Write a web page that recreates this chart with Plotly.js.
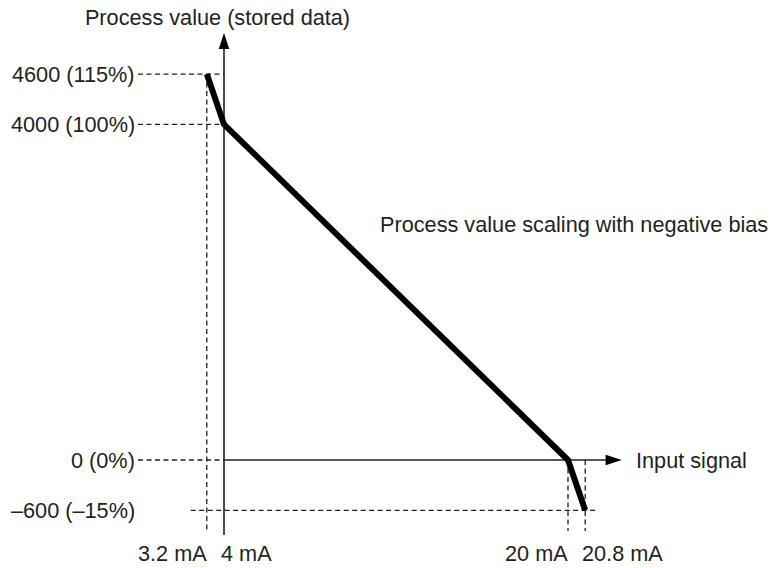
<!DOCTYPE html>
<html><head><meta charset="utf-8">
<script src="https://cdn.plot.ly/plotly-3.0.1.min.js"></script>
<style>html,body{margin:0;padding:0;background:#fff}#chart{width:774px;height:568px}</style>
</head><body><div id="chart"></div>
<script>
// ---- Data ----
const inputSignal = [3.2, 4, 20, 20.8];            // mA
const storedValue = [4600, 4000, 0, -600];         // process value (stored data)
const xTickLabels = ['3.2 mA', '4 mA', '20 mA', '20.8 mA'];
const yTickLabels = ['4600 (115%)', '4000 (100%)', '0 (0%)', '\u2013600 (\u201315%)'];
const titleText = 'Process value (stored data)';
const xAxisLabel = 'Input signal';
const lineLabel = 'Process value scaling with negative bias';

// ---- Layout constants (axis units) ----
const X_RANGE = [-6.4186, 29.5814];
const Y_RANGE = [-1287.3, 5482.7];
const AXIS_X = inputSignal[1];      // vertical axis drawn at 4 mA
const AXIS_Y = storedValue[2];      // horizontal axis drawn at 0
const LABEL_X = 0;                  // right edge of value labels
const X_TIP = 22.5, Y_TIP = 5090;   // arrow tips
const Y_AXIS_BOTTOM = -895, Y_GUIDE_BOTTOM = -845, Y_TICK_TEXT = -1110;

const INK = '#231f20';
const FONT = {family: 'Liberation Sans, Arial, sans-serif', size: 21.7, color: INK};
const DASH = '5px,3.5px';

// horizontal guides
const hx = [], hy = [];
storedValue.forEach((v, i) => {
  let x0 = LABEL_X, x1 = AXIS_X;
  if (i === 3) { x0 = inputSignal[0] - 0.75; x1 = inputSignal[3] + 0.55; }
  hx.push(x0, x1, null); hy.push(v, v, null);
});
// vertical guides
const vx = [], vy = [];
inputSignal.forEach((x, i) => {
  if (i === 1) return; // this one is the axis
  const top = i === 0 ? storedValue[0] : AXIS_Y;
  vx.push(x, x, null); vy.push(top, Y_GUIDE_BOTTOM, null);
});

const traces = [
  {x: hx, y: hy, mode: 'lines', line: {color: INK, width: 1.3, dash: DASH}, hoverinfo: 'skip'},
  {x: vx, y: vy, mode: 'lines', line: {color: INK, width: 1.3, dash: DASH}, hoverinfo: 'skip'},
  // axes
  {x: [AXIS_X, AXIS_X], y: [Y_AXIS_BOTTOM, Y_TIP - 150], mode: 'lines', line: {color: INK, width: 1.6}, hoverinfo: 'skip'},
  {x: [AXIS_X, X_TIP - 0.5], y: [AXIS_Y, AXIS_Y], mode: 'lines', line: {color: INK, width: 1.6}, hoverinfo: 'skip'},
  // scaling line
  {x: inputSignal, y: storedValue, mode: 'lines', line: {color: '#000', width: 6}, hoverinfo: 'skip'},
  // arrowheads
  {x: [AXIS_X, X_TIP], y: [Y_TIP, AXIS_Y], mode: 'markers',
   marker: {symbol: 'arrow', size: 17, angle: [0, 90], color: '#000', line: {width: 0}}, hoverinfo: 'skip'}
];

const annotations = [];
yTickLabels.forEach((t, i) => annotations.push({
  x: LABEL_X, y: storedValue[i], xref: 'x', yref: 'y', text: t, showarrow: false,
  xanchor: 'right', yanchor: 'middle', xshift: -1, font: FONT
}));
const tickAnchor = ['right', 'left', 'right', 'left'];
const tickShift = [2, -5, 2, -5];
xTickLabels.forEach((t, i) => annotations.push({
  x: inputSignal[i], y: Y_TICK_TEXT, xref: 'x', yref: 'y', text: t, showarrow: false,
  xanchor: tickAnchor[i], yanchor: 'middle', xshift: tickShift[i], font: FONT
}));
annotations.push({x: X_TIP, y: AXIS_Y, xref: 'x', yref: 'y', text: xAxisLabel, showarrow: false,
  xanchor: 'left', yanchor: 'middle', xshift: 12, font: FONT});
annotations.push({x: 0.4888, y: 0.604, xref: 'paper', yref: 'paper', text: lineLabel, showarrow: false,
  xanchor: 'left', yanchor: 'middle', font: FONT});

const layout = {
  width: 774, height: 568, autosize: false,
  margin: {l: 0, r: 0, t: 0, b: 0, pad: 0},
  paper_bgcolor: '#fff', plot_bgcolor: '#fff',
  showlegend: false,
  title: {text: titleText, x: 0.281, xref: 'paper', xanchor: 'center',
          y: 1 - 17 / 568, yref: 'container', yanchor: 'middle', font: FONT},
  xaxis: {range: X_RANGE, visible: false, fixedrange: true},
  yaxis: {range: Y_RANGE, visible: false, fixedrange: true},
  annotations: annotations
};

Plotly.newPlot('chart', traces, layout, {displayModeBar: false, staticPlot: true});
</script>
</body></html>
